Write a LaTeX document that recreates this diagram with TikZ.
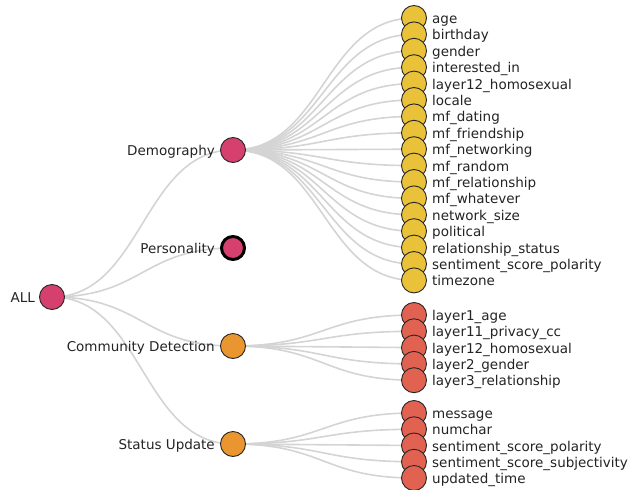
\documentclass[tikz,border=0pt]{standalone}
\usepackage{fontspec}
\setmainfont{DejaVu Sans}
\usetikzlibrary{backgrounds,calc}
\definecolor{cpink}{RGB}{214,64,110}
\definecolor{cyel}{RGB}{234,194,58}
\definecolor{corg}{RGB}{234,150,48}
\definecolor{cred}{RGB}{226,98,82}
\definecolor{cedge}{RGB}{212,212,212}
\definecolor{ctext}{RGB}{35,35,35}
\newcommand\linkcurve[2]{\draw[edge] let \p1=(#1.center),\p2=(#2.center) in (\p1) .. controls ({(\x1+\x2)/2},\y1) and ({(\x1+\x2)/2},\y2) .. (\p2);}
\begin{document}
\begin{tikzpicture}[x=1pt,y=-1pt,
  dot/.style={circle,draw=black!85,line width=0.9pt,inner sep=0pt,minimum size=25pt},
  edge/.style={draw=cedge,line width=1.6pt},
  lbl/.style={font=\fontsize{13.5}{15}\selectfont,text=ctext,inner sep=0pt},
]
\useasboundingbox (0,0) rectangle (630,490);
% root and categories
\node[dot,fill=cpink] (all) at (52,297) {};
\node[lbl,anchor=base east] (allL) at (35,302.5) {ALL};
\node[dot,fill=cpink] (dem) at (233,150) {};
\node[lbl,anchor=base east] (demL) at (215,155.5) {Demography};
\node[dot,fill=cpink,draw=black,line width=3pt,minimum size=23pt] (per) at (233,248) {};
\node[lbl,anchor=base east] (perL) at (215,253.5) {Personality};
\node[dot,fill=corg] (com) at (233,346) {};
\node[lbl,anchor=base east] (comL) at (215,351.5) {Community Detection};
\node[dot,fill=corg] (sta) at (233,444) {};
\node[lbl,anchor=base east] (staL) at (215,449.5) {Status Update};
% demography leaves
\foreach \t [count=\i from 0] in {age,birthday,gender,interested\_in,layer12\_homosexual,locale,mf\_dating,mf\_friendship,mf\_networking,mf\_random,mf\_relationship,mf\_whatever,network\_size,political,relationship\_status,sentiment\_score\_polarity,timezone}{
  \node[dot,fill=cyel] (d\i) at (414,{18+16.4*\i}) {};
  \node[lbl,anchor=base west] (dl\i) at (432,{23.5+16.4*\i}) {\t};
}
% community leaves
\foreach \t [count=\i from 0] in {layer1\_age,layer11\_privacy\_cc,layer12\_homosexual,layer2\_gender,layer3\_relationship}{
  \node[dot,fill=cred] (c\i) at (414,{315+16.3*\i}) {};
  \node[lbl,anchor=base west] (cl\i) at (432,{320.5+16.3*\i}) {\t};
}
% status leaves
\foreach \t [count=\i from 0] in {message,numchar,sentiment\_score\_polarity,sentiment\_score\_subjectivity,updated\_time}{
  \node[dot,fill=cred] (s\i) at (414,{413+16.25*\i}) {};
  \node[lbl,anchor=base west] (sl\i) at (432,{418.5+16.25*\i}) {\t};
}
\begin{scope}[on background layer]
  \foreach \q in {dem,per,com,sta}{\linkcurve{all}{\q}}
  \foreach \i in {0,...,16}{\linkcurve{dem}{d\i}}
  \foreach \i in {0,...,4}{\linkcurve{com}{c\i}}
  \foreach \i in {0,...,4}{\linkcurve{sta}{s\i}}
\end{scope}
\end{tikzpicture}
\end{document}
